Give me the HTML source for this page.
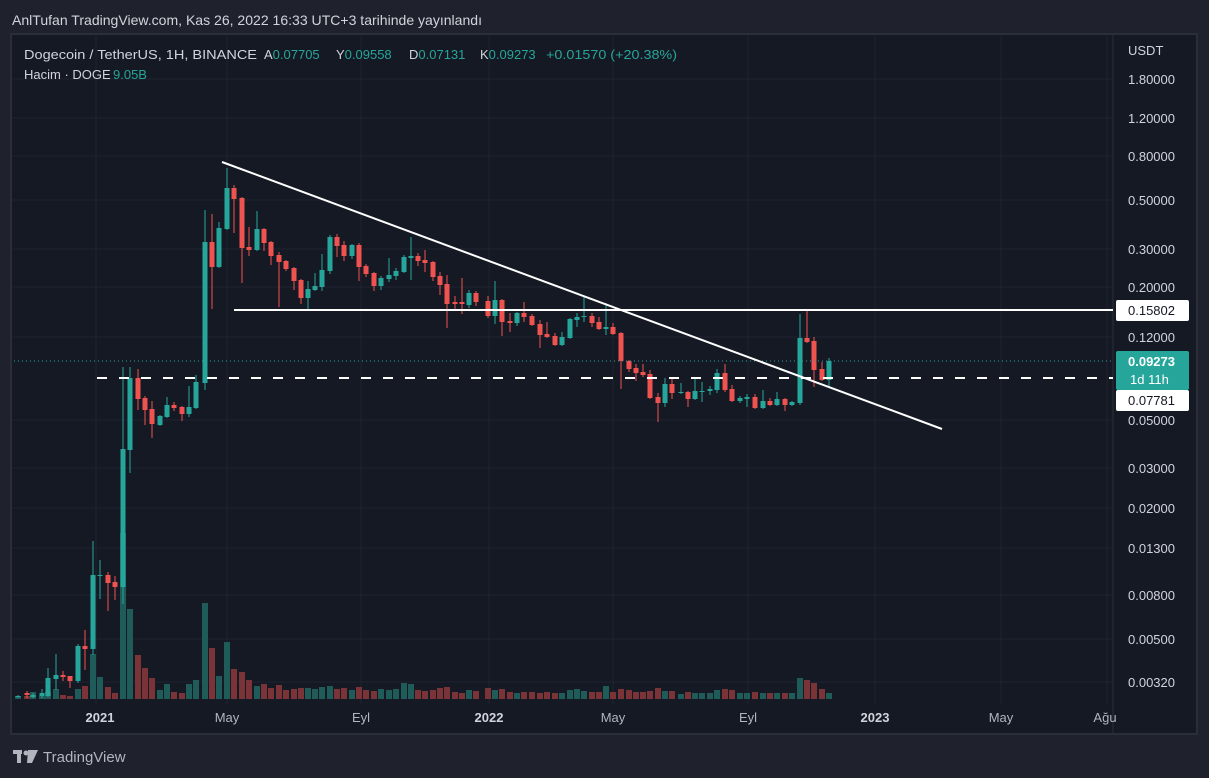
<!DOCTYPE html>
<html><head><meta charset="utf-8"><style>
html,body{margin:0;padding:0;background:#1f222d;width:1209px;height:778px;overflow:hidden;font-family:"Liberation Sans",sans-serif}
</style></head><body>
<svg id="s" width="1209" height="778" xmlns="http://www.w3.org/2000/svg" style="position:absolute;left:0;top:0">
<rect x="0" y="0" width="1209" height="778" fill="#1f222d"/>
<text x="12" y="25" fill="#d1d4dc" font-size="14" font-family="Liberation Sans, sans-serif" textLength="470" lengthAdjust="spacingAndGlyphs">AnlTufan TradingView.com, Kas 26, 2022 16:33 UTC+3 tarihinde yayınlandı</text>
<rect x="11" y="34" width="1186" height="700" fill="#151924" stroke="#2a2e39" stroke-width="2"/>
<g id="grid" stroke="#20242f" stroke-width="1"></g>
<g id="vol"></g>
<g id="cand"></g>
<line x1="14" y1="361" x2="1113" y2="361" stroke="#26a69a" stroke-width="1" stroke-dasharray="1,3"/>
<line x1="97" y1="378" x2="1113" y2="378" stroke="#fff" stroke-width="2" stroke-dasharray="10,12"/>
<line x1="234" y1="310" x2="1113" y2="310" stroke="#fff" stroke-width="2"/>
<line x1="222" y1="162" x2="942" y2="429" stroke="#fff" stroke-width="2"/>
<g font-size="13" fill="#d1d4dc">
<text x="24" y="59" textLength="233" lengthAdjust="spacingAndGlyphs">Dogecoin / TetherUS, 1H, BINANCE</text>
<text x="264" y="59">A<tspan fill="#26a69a">0.07705</tspan></text>
<text x="336" y="59">Y<tspan fill="#26a69a">0.09558</tspan></text>
<text x="409" y="59">D<tspan fill="#26a69a">0.07131</tspan></text>
<text x="480" y="59">K<tspan fill="#26a69a">0.09273</tspan></text>
<text x="546" y="59" fill="#26a69a" textLength="131" lengthAdjust="spacingAndGlyphs">+0.01570 (+20.38%)</text>
<text x="24" y="79">Hacim · DOGE</text>
<text x="113" y="79" fill="#26a69a">9.05B</text>
</g>
<g id="yl" fill="#d1d4dc" font-size="13"></g>
<text x="1128" y="55" fill="#d1d4dc" font-size="13">USDT</text>
<rect x="1116" y="300" width="73" height="21" fill="#fff" rx="2"/>
<text x="1128" y="315" fill="#131722" font-size="13">0.15802</text>
<rect x="1116" y="351" width="73" height="39" fill="#26a69a" rx="2"/>
<text x="1128" y="366" fill="#fff" font-size="13" font-weight="bold">0.09273</text>
<text x="1130" y="384" fill="#fff" font-size="13">1d 11h</text>
<rect x="1116" y="390" width="73" height="21" fill="#fff" rx="2"/>
<text x="1128" y="405" fill="#131722" font-size="13">0.07781</text>
<g fill="#b2b5be" font-size="13" text-anchor="middle">
<text x="100" y="722" font-weight="bold" fill="#d1d4dc">2021</text>
<text x="227" y="722">May</text><text x="361" y="722">Eyl</text>
<text x="489" y="722" font-weight="bold" fill="#d1d4dc">2022</text>
<text x="613" y="722">May</text><text x="748" y="722">Eyl</text>
<text x="875" y="722" font-weight="bold" fill="#d1d4dc">2023</text>
<text x="1001" y="722">May</text><text x="1105" y="722">Ağu</text>
</g>
<g fill="#b2b5be"><rect x="13" y="750" width="9" height="4"/><rect x="17" y="750" width="4" height="13"/><circle cx="26" cy="753" r="2.5"/><polygon points="28,750 38,750 32,763 27,763"/></g>
<text x="43" y="762" fill="#b2b5be" font-size="15">TradingView</text>
</svg>
<script>
var NS="http://www.w3.org/2000/svg";
function el(p,t,a){var e=document.createElementNS(NS,t);for(var k in a)e.setAttribute(k,a[k]);document.getElementById(p).appendChild(e);return e;}
var ys=[[79,"1.80000"],[118,"1.20000"],[156,"0.80000"],[200,"0.50000"],[249,"0.30000"],[287,"0.20000"],[337,"0.12000"],[420,"0.05000"],[468,"0.03000"],[508,"0.02000"],[548,"0.01300"],[595,"0.00800"],[639,"0.00500"],[682,"0.00320"]];
ys.forEach(function(v){el("grid","line",{x1:12,x2:1113,y1:v[0],y2:v[0]});var t=el("yl","text",{x:1128,y:v[0]+5});t.textContent=v[1];});
[96,227,361,489,613,748,875,1001,1107].forEach(function(x){el("grid","line",{x1:x,x2:x,y1:35,y2:705});});
el("grid","line",{x1:1113,x2:1113,y1:35,y2:733,stroke:"#2a2e39"});
var C=[[18,696,697,695,698,1],[27,693,695,691,698,0],[33,695,697,693,698,1],[42,693,696,689,698,1],[48,678,696,668,697,1],[56,675,679,654,690,1],[63,675,677,671,681,0],[70,676,681,676,688,0],[78,646,681,644,683,1],[85,646,649,630,670,0],[93,575,649,541,655,1],[100,575,576,560,599,1],[108,575,583,572,611,0],[115,582,587,576,600,0],[123,449,587,367,604,1],[130,378,450,367,473,1],[138,378,399,369,410,0],[145,398,410,396,425,0],[152,409,424,401,438,0],[160,416,425,415,426,1],[167,405,417,397,418,1],[174,405,408,402,411,0],[182,407,414,406,421,0],[189,407,414,386,417,1],[196,382,408,375,409,1],[205,242,383,210,390,1],[212,242,267,214,309,0],[219,228,267,222,268,1],[227,188,229,168,230,1],[234,188,199,185,233,0],[242,198,248,197,283,0],[249,247,250,227,256,0],[257,229,250,211,251,1],[264,229,243,228,251,0],[271,242,256,241,265,0],[279,255,262,252,307,0],[286,261,269,260,271,0],[294,268,281,267,290,0],[301,280,298,279,304,0],[308,289,298,281,309,1],[315,286,290,273,291,1],[322,270,287,254,291,1],[330,237,271,235,274,1],[337,237,246,234,257,0],[344,245,256,241,261,0],[352,245,256,244,259,1],[359,245,267,243,281,0],[366,266,274,264,277,0],[374,273,286,272,291,0],[381,278,286,276,290,1],[389,275,279,258,282,1],[396,271,276,268,280,1],[404,257,272,255,273,1],[411,256,258,237,280,1],[418,256,261,253,266,0],[425,260,263,250,272,0],[433,262,277,261,281,0],[440,276,285,272,295,0],[447,284,304,275,328,0],[455,302,304,296,310,0],[462,302,304,278,314,0],[469,293,305,290,308,1],[476,293,302,291,306,0],[488,301,316,296,318,0],[495,300,316,281,324,1],[502,300,322,299,336,0],[510,321,323,313,332,0],[517,313,323,312,326,1],[524,313,317,302,322,0],[532,316,325,314,326,0],[540,324,335,320,348,0],[547,334,337,322,338,0],[555,336,345,333,346,0],[562,337,345,332,346,1],[570,319,338,318,339,1],[577,317,320,313,327,1],[584,316,317,297,322,1],[592,316,323,313,327,0],[599,322,329,317,330,0],[606,327,329,303,335,1],[613,327,334,323,335,0],[621,333,361,332,389,0],[629,361,369,360,372,0],[636,368,373,364,381,0],[643,372,375,364,377,0],[650,374,398,370,399,0],[658,397,403,393,422,0],[665,384,403,378,407,1],[672,384,393,377,399,0],[681,392,393,383,394,1],[688,392,399,391,407,0],[695,391,399,379,400,1],[702,391,392,382,402,1],[710,389,391,386,395,1],[717,373,390,369,393,1],[725,373,390,364,392,0],[732,389,401,385,402,0],[740,398,401,396,403,1],[747,397,399,394,407,1],[755,397,408,394,409,0],[763,401,408,390,409,1],[770,401,405,398,406,0],[777,399,405,392,406,1],[785,399,405,398,411,0],[792,402,405,401,406,1],[800,338,403,314,405,1],[807,338,342,310,343,0],[814,341,370,337,387,0],[822,369,380,362,381,0],[829,361,380,358,387,1]];
var V={18:696,27:696,42:696,48:692,56:689,63:695,70:696,78:689,85:686,93:654,100:677,108:687,115:693,123:533,130:609,138:655,145:668,152:678,160:690,167:684,174:692,182:693,189:684,196:680,205:603,212:648,219:676,227:642,234:669,242:672,249:680,257:686,264:684,271:688,279:685,286:690,294:689,301:688,308:688,315:689,322:687,330:686,337:689,344:688,352:690,359:687,366:690,374:691,381:689,389:690,396:689,404:683,411:684,418:690,425:691,433:690,440:688,447:687,455:692,462:693,469:690,476:691,488:688,495:690,502:689,510:692,517:693,524:692,532:692,540:693,547:692,555:693,562:693,570:690,577:689,584:691,592:692,599:692,606:686,613:692,621:689,629:690,636:692,643:692,650:691,658:688,665:691,672:691,681:694,688:692,695:693,702:693,710:693,717:690,725:689,732:690,740:693,747:693,755:692,763:693,770:693,777:693,785:693,792:693,800:678,807:680,814:683,822:689,829:693};
C.forEach(function(c){var g=c[5]?"#26a69a":"#ef5350";var vg=c[5]?"#1f5b58":"#7a3437";
 var vt=V[c[0]]||692; el("vol","rect",{x:c[0]-3,y:vt,width:6,height:699-vt,fill:vg});
 el("cand","line",{x1:c[0],x2:c[0],y1:c[3],y2:c[4],stroke:g,"stroke-width":1});
 el("cand","rect",{x:c[0]-2.5,y:c[1],width:5,height:Math.max(1,c[2]-c[1]),fill:g});});
</script>
</body></html>
